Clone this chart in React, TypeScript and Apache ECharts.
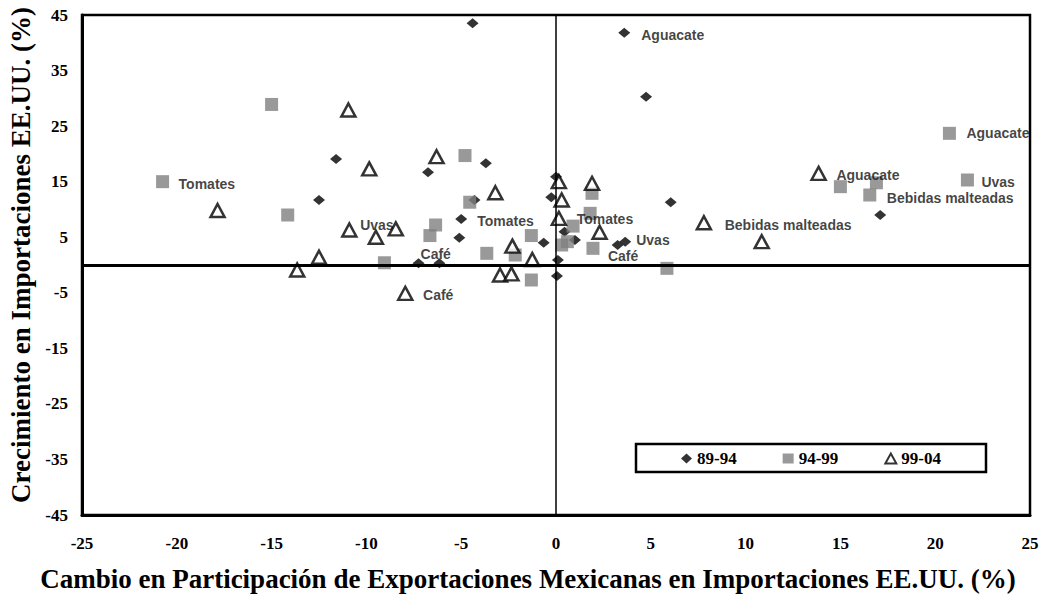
import React, { useEffect, useRef } from "react";
import * as echarts from "echarts";

// Period 1989-1994 (x: change in share %, y: import growth %)
const period8994: [number, number][] = [
  [-4.4, 43.5], [3.6, 41.8], [4.75, 30.3], [-11.6, 19.1], [-3.7, 18.3],
  [-6.75, 16.7], [0.0, 15.9], [-12.5, 11.7], [-4.3, 11.7], [-0.25, 12.2],
  [6.05, 11.3], [17.1, 9.0], [-5.0, 8.3], [-5.1, 4.9], [0.45, 6.0],
  [-0.65, 4.0], [1.0, 4.5], [3.25, 3.6], [3.65, 4.2], [0.1, 0.9],
  [0.05, -2.0], [-7.25, 0.3], [-6.15, 0.3],
];
const labels8994: string[] = [
  "", "Aguacate", "", "", "", "", "", "", "", "", "", "", "Tomates", "", "",
  "", "", "", "Uvas", "", "", "Café", "",
];

// Period 1994-1999
const period9499: [number, number][] = [
  [-20.75, 15.0], [-15.0, 28.9], [-14.15, 9.0], [-9.05, 0.4], [-4.8, 19.7],
  [-4.55, 11.3], [-6.35, 7.2], [-6.65, 5.3], [-3.65, 2.1], [-2.15, 1.8],
  [-1.3, 5.3], [-1.3, -2.7], [0.3, 3.6], [0.6, 4.2], [0.9, 7.0],
  [1.8, 9.3], [1.9, 12.9], [1.95, 3.0], [5.85, -0.6], [15.0, 14.1],
  [16.9, 14.8], [16.55, 12.6], [20.75, 23.7], [21.7, 15.3],
];
const labels9499: string[] = [
  "Tomates", "", "", "", "", "", "", "", "", "", "", "", "", "", "", "", "",
  "Café", "", "", "", "Bebidas malteadas", "Aguacate", "Uvas",
];

// Period 1999-2004
const period9904: [number, number][] = [
  [-17.85, 9.8], [-13.65, -0.9], [-12.5, 1.4], [-10.95, 27.9], [-10.9, 6.3],
  [-9.85, 17.3], [-9.5, 5.0], [-8.45, 6.5], [-7.95, -5.1], [-6.3, 19.5],
  [-3.2, 13.0], [-2.3, 3.4], [-2.95, -1.8], [-2.35, -1.6], [-1.25, 1.0],
  [0.15, 15.0], [0.3, 11.7], [0.15, 8.4], [1.9, 14.7], [2.3, 5.9],
  [7.8, 7.6], [10.85, 4.2], [13.85, 16.5],
];
const labels9904: string[] = [
  "", "", "", "", "Uvas", "", "", "", "Café", "", "", "", "", "", "", "", "",
  "Tomates", "", "", "Bebidas malteadas", "", "Aguacate",
];

const seriesNames: string[] = ["89-94", "94-99", "99-04"];
const xTitle = "Cambio en Participación de Exportaciones Mexicanas en Importaciones EE.UU. (%)";
const yTitle = "Crecimiento en Importaciones EE.UU. (%)";

// label placement offsets (styling only)
const labelOffsets: Record<string, [number, number]> = {
  "0:1": [11, 2], "0:12": [10, 2], "0:18": [5, -2], "0:21": [-4, -9],
  "1:0": [9.5, 2], "1:17": [8.5, 8], "1:21": [10.5, 3], "1:22": [10.5, 0], "1:23": [7.5, 2],
  "2:4": [2.5, -5], "2:8": [9.5, 2], "2:17": [9.5, 1], "2:20": [12.5, 2], "2:22": [9.5, 2],
};

const SANS = "Liberation Sans";
const SERIF = "Liberation Serif";

function buildData(si: number, pts: [number, number][], labels: string[]) {
  return pts.map((p, i) => {
    const name = labels[i] || "";
    const off = labelOffsets[`${si}:${i}`] || [8, 0];
    return {
      value: p,
      name,
      label: name
        ? {
            show: true,
            position: "right",
            distance: 0,
            offset: off,
            formatter: name,
            fontFamily: SANS,
            fontWeight: "bold",
            fontSize: 14,
            color: "#111",
            align: "left",
            verticalAlign: "middle",
          }
        : { show: false },
    };
  });
}

export default function App() {
  const ref = useRef<HTMLDivElement>(null);

  useEffect(() => {
    if (!ref.current) return;
    const chart = echarts.init(ref.current, undefined, { renderer: "svg" });
    chart.setOption({
      animation: false,
      backgroundColor: "#ffffff",
      grid: {
        left: 82,
        right: 11,
        top: 15,
        bottom: 84,
        show: true,
        borderColor: "#000",
        borderWidth: 2.5,
        containLabel: false,
        outerBoundsMode: "none",
      },
      xAxis: {
        type: "value",
        min: -25,
        max: 25,
        interval: 5,
        name: xTitle,
        nameLocation: "middle",
        nameGap: 50,
        nameTextStyle: {
          fontFamily: SERIF,
          fontWeight: "bold",
          fontSize: 27,
          color: "#000",
          padding: [0, 56, 0, 0],
        },
        axisLine: { show: true, onZero: false, lineStyle: { color: "#000", width: 3 } },
        axisTick: { show: false },
        splitLine: { show: false },
        axisLabel: {
          show: true,
          fontFamily: SERIF,
          fontWeight: "bold",
          fontSize: 17,
          color: "#000",
          margin: 20,
        },
      },
      yAxis: {
        type: "value",
        min: -45,
        max: 45,
        interval: 10,
        name: yTitle,
        nameLocation: "middle",
        nameGap: 48,
        nameTextStyle: {
          fontFamily: SERIF,
          fontWeight: "bold",
          fontSize: 27,
          color: "#000",
          padding: [0, 0, 0, 20],
        },
        axisLine: { show: true, onZero: false, lineStyle: { color: "#000", width: 3 } },
        axisTick: { show: false },
        splitLine: { show: false },
        axisLabel: {
          show: true,
          fontFamily: SERIF,
          fontWeight: "bold",
          fontSize: 17,
          color: "#000",
          margin: 14,
        },
      },
      legend: {
        data: seriesNames,
        left: 681,
        top: 450,
        padding: 0,
        itemWidth: 11,
        itemHeight: 10,
        itemGap: 46,
        textStyle: { fontFamily: SERIF, fontWeight: "bold", fontSize: 17, color: "#000" },
      },
      graphic: [
        {
          type: "rect",
          z: 3,
          shape: { x: 636, y: 444, width: 350, height: 28 },
          style: { fill: "#fff", stroke: "#000", lineWidth: 2.5 },
        },
      ],
      series: [
        {
          name: seriesNames[0],
          type: "scatter",
          symbol: "diamond",
          symbolSize: [12, 10],
          itemStyle: { color: "#000" },
          data: buildData(0, period8994, labels8994),
          markLine: {
            silent: true,
            symbol: "none",
            label: { show: false },
            data: [
              { xAxis: 0, lineStyle: { color: "#000", width: 1.5, type: "solid" } },
              { yAxis: 0, lineStyle: { color: "#000", width: 3, type: "solid" } },
            ],
          },
        },
        {
          name: seriesNames[1],
          type: "scatter",
          symbol: "rect",
          symbolSize: 13,
          itemStyle: { color: "#808080" },
          data: buildData(1, period9499, labels9499),
        },
        {
          name: seriesNames[2],
          type: "scatter",
          symbol: "triangle",
          symbolSize: [14, 13],
          itemStyle: { color: "#fff", borderColor: "#000", borderWidth: 2.5 },
          data: buildData(2, period9904, labels9904),
        },
      ],
    });
    return () => chart.dispose();
  }, []);

  return (
    <div
      ref={ref}
      style={{ position: "fixed", left: 0, top: 0, width: 1041, height: 599, background: "#fff" }}
    />
  );
}
